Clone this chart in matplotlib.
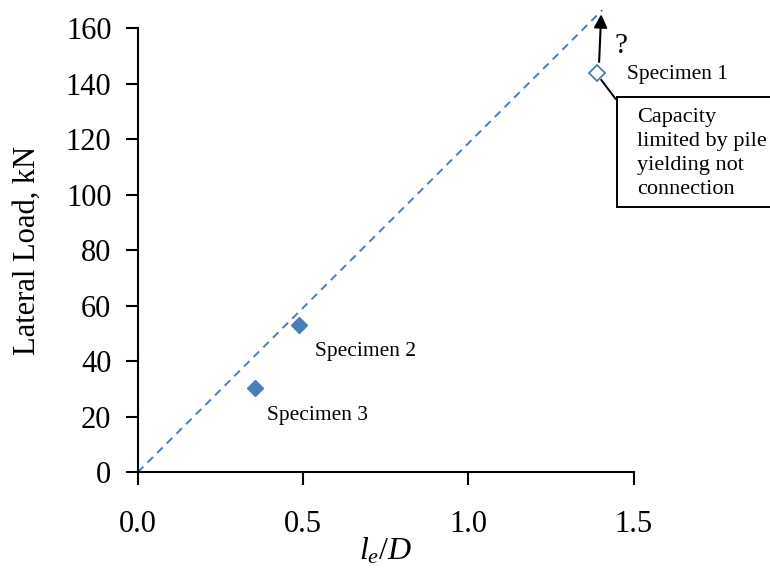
import matplotlib
matplotlib.use("Agg")
import matplotlib.pyplot as plt
from matplotlib.patches import Rectangle

plt.rcParams['font.family'] = ['Liberation Serif', 'DejaVu Serif']
plt.rcParams['mathtext.fontset'] = 'custom'
plt.rcParams['mathtext.rm'] = 'Liberation Serif'
plt.rcParams['mathtext.it'] = 'Liberation Serif:italic'

# Measured specimens: l_e/D and lateral load (kN)
specimens = ["Specimen 1", "Specimen 2", "Specimen 3"]
le_over_d = [1.39, 0.487, 0.354]
lateral_load = [143.8, 53.0, 30.2]

# Trend line through origin
trend_x = [0.0, 1.405]
trend_y = [0.0, 166.5]

xticks = [0.0, 0.5, 1.0, 1.5]
yticks = [0, 20, 40, 60, 80, 100, 120, 140, 160]

blue = '#4A7EBB'

fig = plt.figure(figsize=(7.7, 5.73), dpi=100)
ax = fig.add_axes([0.179, 0.176, 0.644, 0.775])

ax.plot(trend_x, trend_y, linestyle=(0, (4, 3)), color=blue, lw=1.4, clip_on=False, zorder=2)

# Filled markers for specimens 2 and 3, hollow for specimen 1
ax.plot(le_over_d[1:], lateral_load[1:], linestyle='none', marker='D', ms=8.5,
        color=blue, zorder=3)
ax.plot(le_over_d[0], lateral_load[0], linestyle='none', marker='D', ms=8.5,
        mfc='white', mec=blue, mew=1.3, zorder=3, clip_on=False)

# Arrow indicating the load could be higher
ax.annotate('', xy=(le_over_d[0] + 0.012, 166.0), xytext=(le_over_d[0] + 0.005, lateral_load[0] + 3),
            arrowprops=dict(arrowstyle='-|>', color='black', lw=1.5, mutation_scale=20),
            annotation_clip=False, zorder=4)
ax.text(le_over_d[0] + 0.052, 153.5, '?', fontsize=21, ha='left', va='center')

# Labels next to points
ax.text(1.48, lateral_load[0] - 0.5, specimens[0], fontsize=15.5, ha='left', va='center')
ax.text(0.536, lateral_load[1] - 9.5, specimens[1], fontsize=15.5, ha='left', va='center')
ax.text(0.39, lateral_load[2] - 9.8, specimens[2], fontsize=15.5, ha='left', va='center')

# Leader line to the callout box
ax.plot([le_over_d[0] + 0.012, 1.445], [lateral_load[0] - 2.5, 134.5], color='black', lw=1.4,
        clip_on=False, zorder=4)

# Callout box (runs off the right edge of the figure)
box = Rectangle((617 / 770, 1 - 207 / 573), 0.3, (207 - 97) / 573, transform=fig.transFigure,
                fc='white', ec='black', lw=1.4, zorder=5)
fig.add_artist(box)
fig.text(637 / 770, 1 - 108 / 573, 'Capacity\nlimited by pile\nyielding not\nconnection',
         fontsize=16, ha='left', va='top', linespacing=1.36, zorder=6)

ax.set_xlim(0, 1.5)
ax.set_ylim(0, 160)
ax.set_xticks(xticks)
ax.set_xticklabels([f'{v:.1f}' for v in xticks])
ax.set_yticks(yticks)

for s in ['top', 'right']:
    ax.spines[s].set_visible(False)
for s in ['left', 'bottom']:
    ax.spines[s].set_linewidth(1.5)

ax.tick_params(axis='both', labelsize=22, width=1.5, length=9, direction='out')
ax.tick_params(axis='x', pad=18)
ax.tick_params(axis='y', pad=10)

ax.set_ylabel('Lateral Load, kN', fontsize=22, labelpad=17)
ax.set_xlabel(r'$l_e\mathrm{/}D$', fontsize=23, labelpad=-2)

fig.savefig('out.png', dpi=100)
